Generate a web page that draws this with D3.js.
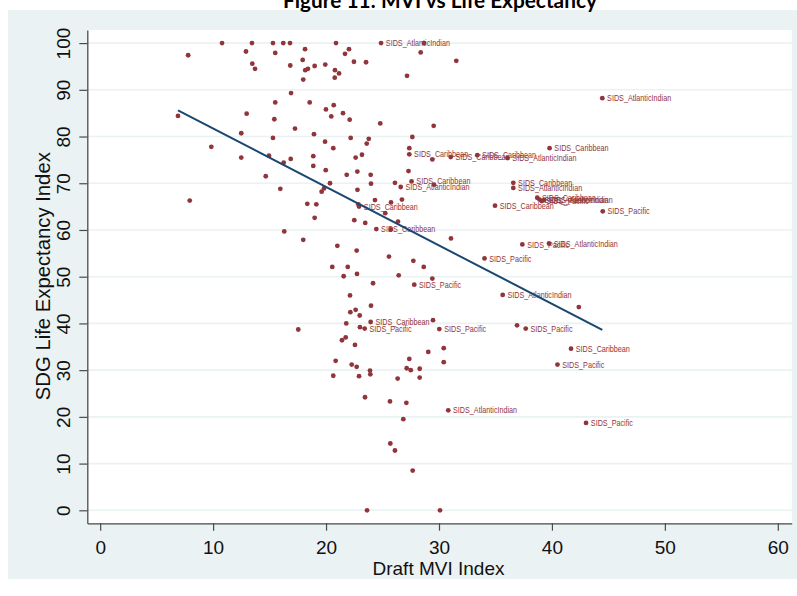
<!DOCTYPE html>
<html>
<head>
<meta charset="utf-8">
<script src="https://cdn.jsdelivr.net/npm/d3@7"></script>
<style>
  html, body { margin: 0; padding: 0; background: #ffffff; }
  svg { display: block; }
</style>
</head>
<body>
<svg id="chart" width="797" height="596"></svg>
<script>
// Draft MVI index (x) against the SDG life-expectancy index (y), one marker per country
const mvi = [
  6.89, 7.79, 7.93, 9.84, 10.79, 12.49, 12.49, 12.91, 12.97, 13.44,
  13.47, 13.71, 14.66, 14.95, 15.3, 15.3, 15.42, 15.5, 15.5, 15.95,
  16.21, 16.25, 16.3, 16.81, 16.83, 16.87, 16.9, 17.25, 17.54, 18.14,
  17.93, 18.16, 18.4, 17.98, 18.99, 19.93, 20.88, 20.79, 21.15, 20.77,
  21.68, 22.03, 22.47, 23.54, 24.87, 28.38, 27.17, 31.53, 28.67, 18.55,
  19.99, 20.68, 20.46, 21.5, 22.09, 24.8, 29.53, 18.93, 19.91, 20.64,
  22.18, 23.78, 23.6, 27.64, 27.37, 27.37, 23.18, 22.62, 18.87, 18.87,
  19.97, 21.83, 22.77, 23.95, 27.3, 29.41, 31.04, 33.39, 36.07, 20.35,
  19.61, 19.82, 23.98, 22.78, 26.1, 26.61, 27.57, 29.56, 18.34, 19.14,
  22.86, 22.92, 24.33, 25.75, 26.72, 25.24, 18.99, 22.5, 23.47, 26.37,
  24.45, 25.73, 17.98, 31.06, 21.0, 22.71, 37.38, 39.74, 25.57, 27.73,
  34.03, 20.55, 21.92, 28.65, 21.56, 22.74, 26.43, 29.41, 24.16, 27.81,
  22.12, 35.64, 23.98, 42.38, 22.62, 22.15, 22.98, 23.95, 29.47, 21.79,
  23.0, 23.42, 30.03, 36.91, 37.68, 21.74, 21.41, 22.56, 29.05, 30.42,
  41.69, 20.85, 27.37, 30.42, 22.27, 22.71, 40.49, 20.64, 22.92, 23.89,
  23.92, 27.14, 27.5, 26.34, 28.29, 28.29, 23.45, 25.66, 27.11, 26.84,
  30.82, 43.02, 25.69, 26.1, 27.67, 23.63, 30.09, 44.46, 39.79, 36.58,
  36.58, 34.96, 38.7, 38.9, 39.1, 39.3, 44.5
];

const lifeIndex = [
  84.4, 97.4, 66.3, 77.8, 100, 80.7, 75.5, 98.2, 84.9, 100,
  95.6, 94.5, 71.5, 75.9, 100, 79.7, 83.7, 97.9, 87.3, 68.8,
  100, 74.4, 59.7, 100, 95.2, 75.2, 89.3, 81.7, 38.7, 98.7,
  96.4, 94.2, 94.5, 92.2, 95.1, 95.4, 100, 94.2, 93.5, 92.6,
  97.7, 98.7, 96.0, 95.9, 100, 98.0, 93.0, 96.2, 100, 87.3,
  85.8, 86.7, 84.3, 85.0, 83.6, 82.8, 82.3, 80.5, 78.9, 77.5,
  79.7, 79.5, 78.5, 79.9, 77.5, 76.2, 76.1, 75.5, 75.8, 73.7,
  72.8, 71.8, 72.5, 71.8, 72.6, 75.1, 75.6, 76.0, 75.4, 70.0,
  68.2, 68.9, 69.9, 68.6, 70.1, 69.2, 70.4, 69.7, 65.6, 65.5,
  65.5, 65.0, 66.4, 65.9, 66.5, 63.6, 62.6, 62.1, 61.5, 61.8,
  60.2, 60.1, 57.9, 58.2, 56.6, 55.6, 56.9, 57.1, 54.3, 53.4,
  53.9, 52.1, 52.1, 52.1, 50.1, 50.6, 50.3, 49.6, 48.6, 48.3,
  46.0, 46.1, 43.8, 43.5, 42.9, 42.4, 41.7, 40.3, 40.7, 40.0,
  39.2, 38.9, 38.8, 39.6, 38.9, 37.0, 36.4, 35.4, 33.9, 34.7,
  34.6, 32.0, 32.4, 31.7, 31.2, 30.7, 31.2, 28.8, 28.7, 29.9,
  29.1, 30.4, 30.0, 28.2, 30.3, 28.4, 24.2, 23.3, 23.0, 19.5,
  21.4, 18.7, 14.3, 12.8, 8.5, 0, 0, 88.2, 77.5, 70.1,
  69.0, 65.2, 66.9, 66.5, 66.2, 66.4, 64.0
];

// Marker labels: only small island developing states carry a group name
const groupLabel = [
  "", "", "", "", "", "", "", "", "", "",
  "", "", "", "", "", "", "", "", "", "",
  "", "", "", "", "", "", "", "", "", "",
  "", "", "", "", "", "", "", "", "", "",
  "", "", "", "", "SIDS_AtlanticIndian", "", "", "", "", "",
  "", "", "", "", "", "", "", "", "", "",
  "", "", "", "", "", "SIDS_Caribbean", "", "", "", "",
  "", "", "", "", "", "", "SIDS_Caribbean", "SIDS_Caribbean", "SIDS_AtlanticIndian", "",
  "", "", "", "", "", "SIDS_AtlanticIndian", "SIDS_Caribbean", "", "", "",
  "", "SIDS_Caribbean", "", "", "", "", "", "", "", "",
  "SIDS_Caribbean", "", "", "", "", "", "SIDS_Pacific", "SIDS_AtlanticIndian", "", "",
  "SIDS_Pacific", "", "", "", "", "", "", "", "", "SIDS_Pacific",
  "", "SIDS_AtlanticIndian", "", "", "", "", "", "SIDS_Caribbean", "", "",
  "", "SIDS_Pacific", "SIDS_Pacific", "", "SIDS_Pacific", "", "", "", "", "",
  "SIDS_Caribbean", "", "", "", "", "", "SIDS_Pacific", "", "", "",
  "", "", "", "", "", "", "", "", "", "",
  "SIDS_AtlanticIndian", "SIDS_Pacific", "", "", "", "", "", "SIDS_AtlanticIndian", "SIDS_Caribbean", "SIDS_Caribbean",
  "SIDS_AtlanticIndian", "SIDS_Caribbean", "SIDS_Caribbean", "SIDS_AtlanticIndian", "SIDS_Pacific", "SIDS_AtlanticIndian", "SIDS_Pacific"
];

// Linear fit, drawn across the observed MVI range
const fitMvi = [6.89, 44.46];
const fitLife = [85.6, 38.6];

const xTicks = [0, 10, 20, 30, 40, 50, 60];
const yTicks = [0, 10, 20, 30, 40, 50, 60, 70, 80, 90, 100];

const chartTitle = "Figure 11: MVI vs Life Expectancy";
const xTitle = "Draft MVI Index";
const yTitle = "SDG Life Expectancy Index";

// ---- layout ----
const plot = { left: 87.3, right: 791.7, top: 30, bottom: 523.3 };
const markerColor = "#90353b";
const lineColor = "#1a476f";
const panelColor = "#eaf2f3";
const axisColor = "#4a4a4a";
const sans = '"Liberation Sans", Arial, sans-serif';

const svg = d3.select("#chart");

const x = d3.scaleLinear().domain([-1.14, 61.23]).range([plot.left, plot.right]);
const y = d3.scaleLinear().domain([-2.78, 102.8]).range([plot.bottom, plot.top]);

// outer graph region and white plot region
svg.append("rect").attr("x", 8).attr("y", 10).attr("width", 797 - 8).attr("height", 579 - 10)
  .attr("fill", panelColor);
svg.append("rect").attr("x", plot.left).attr("y", plot.top)
  .attr("width", plot.right - plot.left).attr("height", plot.bottom - plot.top)
  .attr("fill", "#ffffff");

// horizontal grid lines
svg.append("g").selectAll("line").data(yTicks).join("line")
  .attr("x1", plot.left).attr("x2", plot.right)
  .attr("y1", d => y(d)).attr("y2", d => y(d))
  .attr("stroke", panelColor).attr("stroke-width", 1.6);

// title (sits above the graph region, partly off the top edge)
const title = svg.append("text")
  .attr("x", 440).attr("y", 8)
  .attr("text-anchor", "middle")
  .attr("font-family", 'Lato, "Open Sans", sans-serif')
  .attr("font-weight", 700)
  .attr("font-size", 20)
  .attr("fill", "#000")
  .text(chartTitle);
const tw = title.node().getComputedTextLength();
title.attr("font-size", 20 * 314 / tw);

// y axis
const yAxis = svg.append("g")
  .attr("transform", `translate(${plot.left},0)`)
  .call(d3.axisLeft(y).tickValues(yTicks).tickSize(8).tickSizeOuter(0));
yAxis.select(".domain").attr("stroke", axisColor).attr("stroke-width", 1.3);
yAxis.selectAll(".tick line").attr("stroke", axisColor).attr("stroke-width", 1.2);
yAxis.selectAll(".tick text")
  .attr("x", null).attr("dy", null)
  .attr("text-anchor", "middle")
  .attr("transform", "translate(-17.3,0) rotate(-90)")
  .attr("font-family", sans).attr("font-size", 19).attr("fill", "#111");

// x axis
const xAxis = svg.append("g")
  .attr("transform", `translate(0,${plot.bottom})`)
  .call(d3.axisBottom(x).tickValues(xTicks).tickSize(7.4).tickSizeOuter(0));
xAxis.select(".domain").attr("stroke", axisColor).attr("stroke-width", 1.3);
xAxis.selectAll(".tick line").attr("stroke", axisColor).attr("stroke-width", 1.2);
xAxis.selectAll(".tick text")
  .attr("y", 30.8).attr("dy", null)
  .attr("font-family", sans).attr("font-size", 19).attr("fill", "#111");

// axis titles
svg.append("text")
  .attr("x", 438.5).attr("y", 574.7)
  .attr("text-anchor", "middle")
  .attr("font-family", sans).attr("font-size", 19).attr("fill", "#111")
  .text(xTitle);
svg.append("text")
  .attr("transform", `translate(49.5,276.2) rotate(-90)`)
  .attr("text-anchor", "middle")
  .attr("font-family", sans).attr("font-size", 20.3).attr("fill", "#111")
  .text(yTitle);

// markers
const points = mvi.map((v, i) => ({ mvi: v, life: lifeIndex[i], label: groupLabel[i] }));

svg.append("g").selectAll("circle").data(points).join("circle")
  .attr("cx", d => x(d.mvi)).attr("cy", d => y(d.life))
  .attr("r", 2.4)
  .attr("fill", markerColor);

// marker labels, placed to the right of each labelled marker
svg.append("g").selectAll("text").data(points.filter(d => d.label)).join("text")
  .attr("transform", d => `translate(${x(d.mvi) + 4.8},${y(d.life)}) scale(0.82,1)`)
  .attr("dy", "0.35em")
  .attr("font-family", sans).attr("font-size", 8.8)
  .attr("fill", markerColor)
  .text(d => d.label);

// fitted line
svg.append("line")
  .attr("x1", x(fitMvi[0])).attr("y1", y(fitLife[0]))
  .attr("x2", x(fitMvi[1])).attr("y2", y(fitLife[1]))
  .attr("stroke", lineColor).attr("stroke-width", 2);
</script>
</body>
</html>
